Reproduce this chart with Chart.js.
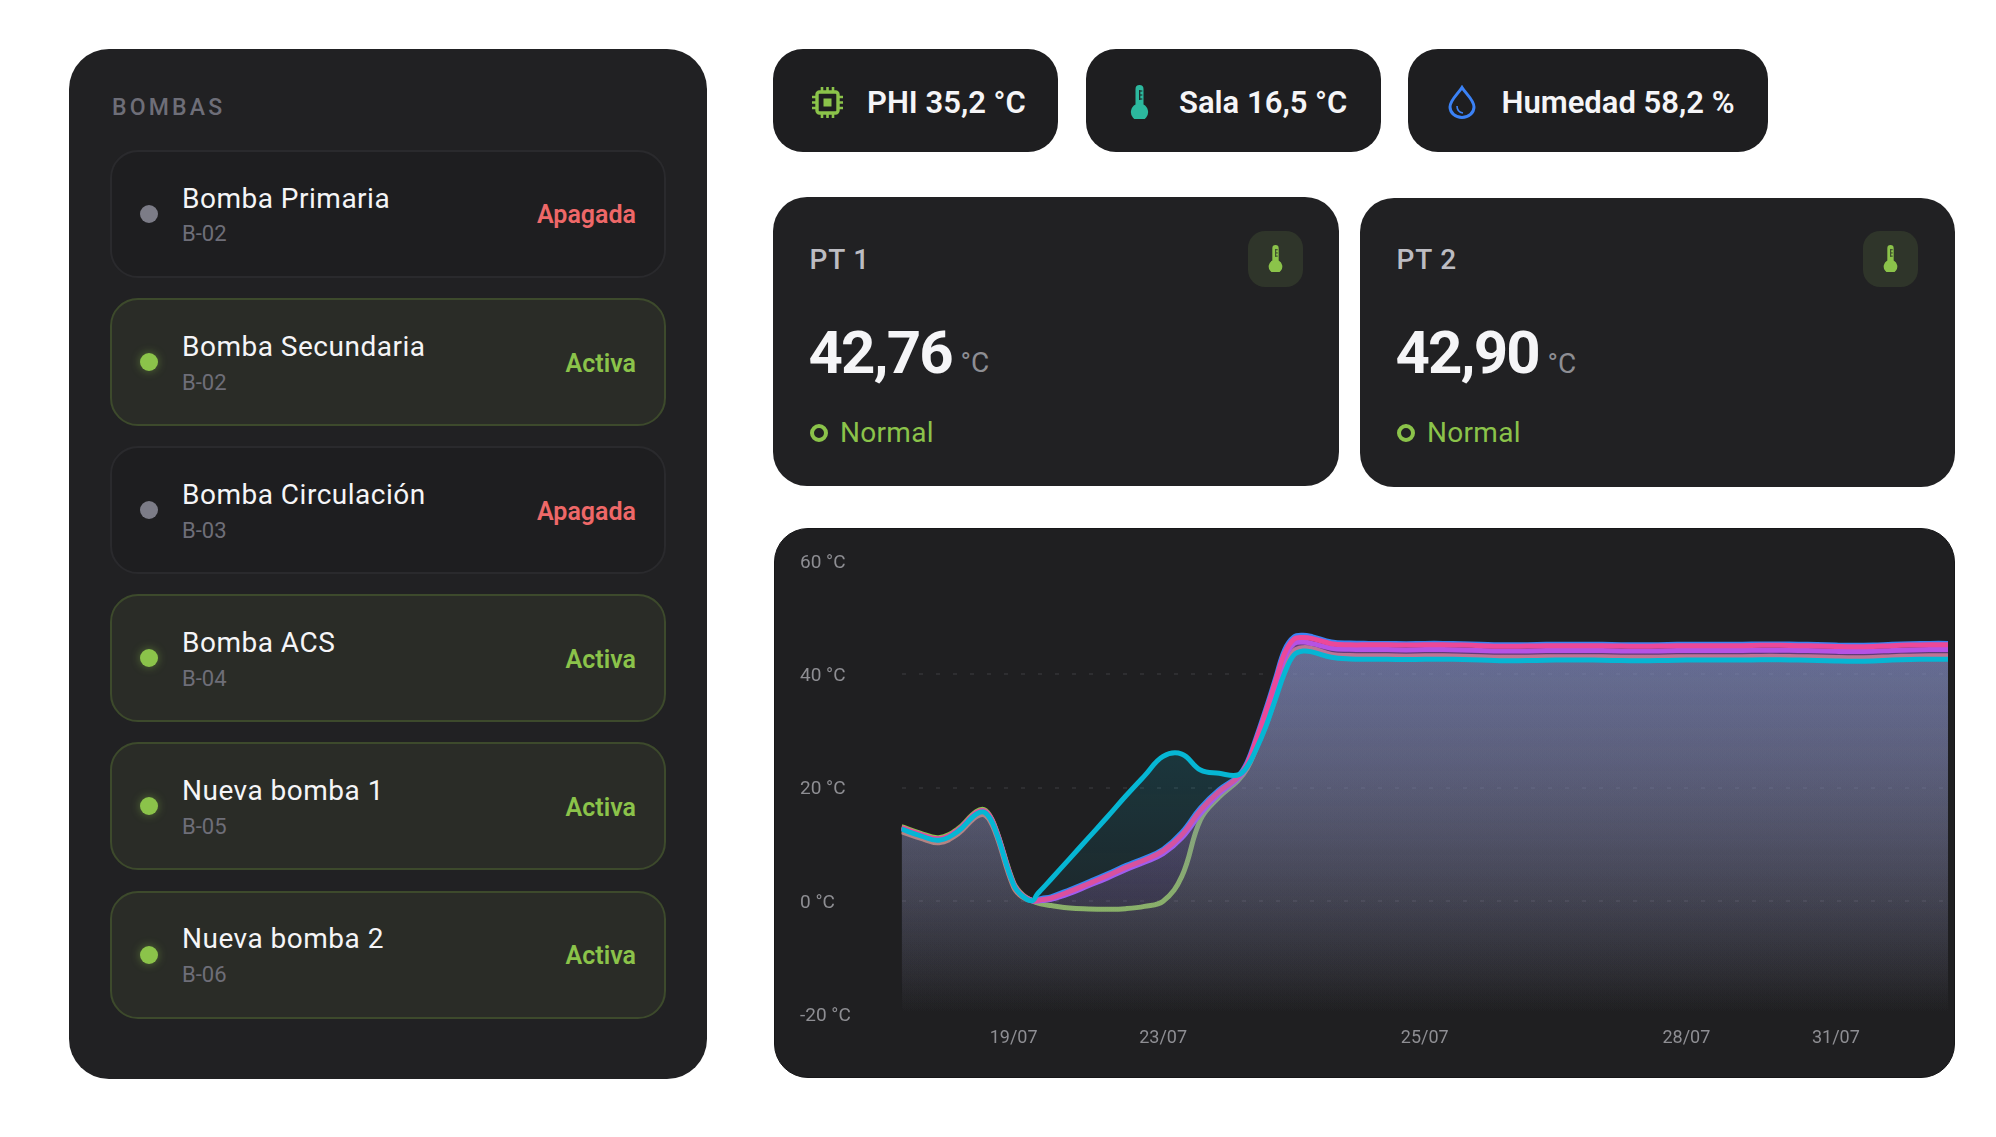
<!DOCTYPE html>
<html>
<head>
<meta charset="utf-8">
<script src="https://cdn.jsdelivr.net/npm/chart.js@4"></script>
<style>
html, body { margin: 0; padding: 0; background: #fff; }
body { position: relative; width: 1996px; height: 1137px; overflow: hidden; font-family: Roboto, sans-serif; }
.box { position: absolute; box-sizing: border-box; background: #212123; }
.t { position: absolute; line-height: 0; white-space: nowrap; }
svg { position: absolute; }
canvas { position: absolute; display: block; }
</style>
</head>
<body>
<div id="page"></div>
<div class="box" style="left:774px;top:528px;width:1181px;height:550px;border-radius:34px;background:#1f1f21;border:1px solid #161618"></div>
<canvas id="tempChart" width="1181" height="550" style="left:774px;top:528px"></canvas>

<script>
const pumpNames = ["Bomba Primaria", "Bomba Secundaria", "Bomba Circulación", "Bomba ACS", "Nueva bomba 1", "Nueva bomba 2"];
const pumpCodes = ["B-02", "B-02", "B-03", "B-04", "B-05", "B-06"];
const pumpStates = ["Apagada", "Activa", "Apagada", "Activa", "Activa", "Activa"];

const xTickValues = [3, 7, 14, 21, 25];
const xTickLabels = ["19/07", "23/07", "25/07", "28/07", "31/07"];
const yTicks = [-20, 0, 20, 40, 60];

const xSamples = [0, 0.5, 1, 1.5, 2, 2.25, 2.5, 3, 3.25, 3.5, 3.625, 3.75, 4, 4.5, 5, 5.5, 6, 6.5, 7, 7.5, 8, 8.5, 9, 9.25, 9.5, 9.75, 10, 10.25, 10.5, 10.75, 11, 11.5, 12,
    12.5, 13, 13.5, 14, 14.5, 15, 15.5, 16, 16.5, 17, 17.5, 18, 18.5, 19, 19.5, 20, 20.5, 21, 21.5, 22, 22.5, 23, 23.5, 24, 24.5, 25, 25.5, 26, 26.5, 27, 27.5, 28];

const cyanValues = [12.65, 11.5, 10.7, 12.2, 15.3, 15.5, 12.7, 2.8, 0.75, 0, 1.1, 2, 3.8, 7.45, 11.1, 14.75, 18.5, 22.05, 25.5, 25.9, 23.1, 22.5, 22.2, 23.7, 26.9, 30.8, 35.5, 40.2, 43.4, 44.1, 43.9, 43, 42.7,
    42.65, 42.65, 42.6, 42.65, 42.65, 42.6, 42.5, 42.4, 42.4, 42.45, 42.5, 42.5, 42.5, 42.45, 42.4, 42.4, 42.45, 42.5, 42.5, 42.5, 42.5, 42.55, 42.55, 42.5, 42.45, 42.35, 42.3, 42.35, 42.5, 42.6, 42.65, 42.65];
const pinkValues = [12.9, 11.75, 10.95, 12.45, 15.55, 15.75, 13, 3, 0.9, 0, 0.05, 0.2, 0.47, 1.65, 3, 4.4, 5.9, 7.2, 8.8, 11.65, 16, 19.3, 21.8, 24.2, 28.6, 33.4, 38.6, 43.7, 46.2, 46.5, 46.3, 45.4, 45.2,
    45.2, 45.2, 45.15, 45.2, 45.2, 45.15, 45.05, 44.95, 44.95, 45, 45.05, 45.05, 45.05, 45, 44.95, 44.95, 45, 45.05, 45.05, 45.05, 45.05, 45.1, 45.1, 45.05, 45, 44.9, 44.85, 44.9, 45.05, 45.15, 45.2, 45.2];
const purpleValues = [12.75, 11.6, 10.8, 12.3, 15.4, 15.6, 12.85, 2.9, 0.8, 0, -0.05, 0.05, 0.25, 1.3, 2.65, 4, 5.5, 6.8, 8.3, 11.1, 15.4, 18.9, 21.6, 23.8, 28.2, 32.9, 37.9, 42.9, 45.4, 45.7, 45.4, 44.6, 44.4,
    44.35, 44.35, 44.3, 44.35, 44.35, 44.3, 44.2, 44.1, 44.1, 44.15, 44.2, 44.2, 44.2, 44.15, 44.1, 44.1, 44.15, 44.2, 44.2, 44.2, 44.2, 44.25, 44.25, 44.2, 44.15, 44.05, 44, 44.05, 44.2, 44.3, 44.35, 44.35];
const blueValues = [12.85, 11.7, 10.9, 12.4, 15.5, 15.7, 12.95, 2.95, 0.85, 0, 0.15, 0.4, 0.7, 1.95, 3.3, 4.7, 6.2, 7.5, 9.1, 12.05, 16.4, 19.6, 22, 24.5, 29, 33.9, 39.1, 44.3, 46.6, 46.9, 46.6, 45.7, 45.5,
    45.45, 45.45, 45.4, 45.45, 45.45, 45.4, 45.3, 45.2, 45.2, 45.25, 45.3, 45.3, 45.3, 45.25, 45.2, 45.2, 45.25, 45.3, 45.3, 45.3, 45.3, 45.35, 45.35, 45.3, 45.25, 45.15, 45.1, 45.15, 45.3, 45.4, 45.45, 45.45];
const orangeValues = [12.2, 11.05, 10.25, 11.75, 14.85, 15.05, 12.25, 2.4, 0.6, 0, 0, 0.15, 0.35, 1.5, 2.85, 4.25, 5.75, 7.05, 8.6, 11.4, 15.8, 19.1, 21.6, 23.5, 27.3, 31.3, 36, 41, 44.1, 44.7, 44.5, 43.5, 43.3,
    43.25, 43.25, 43.2, 43.25, 43.25, 43.2, 43.1, 43, 43, 43.05, 43.1, 43.1, 43.1, 43.05, 43, 43, 43.05, 43.1, 43.1, 43.1, 43.1, 43.15, 43.15, 43.1, 43.05, 42.95, 42.9, 42.95, 43.1, 43.2, 43.25, 43.25];
const greenValues = [13.1, 11.95, 11.15, 12.65, 15.75, 15.95, 13.15, 3.2, 1, 0, -0.35, -0.6, -0.85, -1.3, -1.45, -1.5, -1.4, -1, -0.1, 4.3, 14.3, 18.3, 21.2, 23.4, 27.1, 31, 35.8, 40.7, 43.8, 44.5, 44.3, 43.3, 43.1,
    43.1, 43.1, 43.05, 43.1, 43.1, 43.05, 42.95, 42.85, 42.85, 42.9, 42.95, 42.95, 42.95, 42.9, 42.85, 42.85, 42.9, 42.95, 42.95, 42.95, 42.95, 43, 43, 42.95, 42.9, 42.8, 42.75, 42.8, 42.95, 43.05, 43.1, 43.1];

const GREEN = "#8bc34a", RED = "#ee6868", MUTED = "#6e6e78";

const page = document.getElementById("page");

function box(x, y, w, h, r, css) {
    const el = document.createElement("div");
    el.className = "box";
    el.style.cssText = `left:${x}px;top:${y}px;width:${w}px;height:${h}px;border-radius:${r}px;${css || ""}`;
    page.appendChild(el);
    return el;
}

// x is the left edge (or the right edge when right is true), y is the text baseline
function text(str, x, y, size, weight, color, opts) {
    const el = document.createElement("div");
    const o = opts || {};
    el.className = "t";
    el.textContent = str;
    const horiz = o.right ? `right:${1996 - x}px` : `left:${x}px`;
    el.style.cssText = `${horiz};top:${y - size * 0.3415}px;font-size:${size}px;font-weight:${weight};color:${color};letter-spacing:${o.spacing || 0}px`;
    page.appendChild(el);
}

function icon(x, y, w, h, viewBox, inner) {
    page.insertAdjacentHTML("beforeend",
        `<svg style="left:${x}px;top:${y}px" width="${w}" height="${h}" viewBox="${viewBox}">${inner}</svg>`);
}

function thermo(x, y, w, h, color, bg) {
    icon(x, y, w, h, "0 0 18 34",
        `<path fill="${color}" d="M5 4a4 4 0 0 1 8 0v15.5a8.6 8.6 0 1 1-8 0z"/>
         <path stroke="${bg}" stroke-width="1.2" d="M9.6 6h2.2M9.6 10h2.2M9.6 14h2.2M9.2 5v10"/>`);
}

// left panel
box(69, 49, 638, 1030, 40);
text("BOMBAS", 112, 116, 23, 500, MUTED, { spacing: 3.2 });
pumpNames.forEach((name, i) => {
    const top = 150 + i * 148.1;
    const on = pumpStates[i] === "Activa";
    box(110, top, 556, 128, 28, on
        ? "background:#2a2c27;border:2px solid #3d4a2c"
        : "background:#1e1e20;border:2px solid #2a2a2d");
    box(139.5, top + 55, 18, 18, 9, on
        ? `background:${GREEN};box-shadow:0 0 10px rgba(139,195,74,.45)`
        : "background:#7c7c87");
    text(name, 182, top + 58.4, 28, 400, "#f5f5f7", { spacing: 0.5 });
    text(pumpCodes[i], 182, top + 92, 22, 400, MUTED);
    text(pumpStates[i], 636, top + 74, 25, 600, on ? GREEN : RED, { right: true });
});

// top pills
box(773, 49, 285, 103, 30, "background:#1e1e20");
box(1086, 49, 295, 103, 30, "background:#1e1e20");
box(1408, 49, 360, 103, 30, "background:#1e1e20");
text("PHI 35,2 °C", 867, 114, 31, 600, "#f5f5f7");
text("Sala 16,5 °C", 1179, 114, 31, 600, "#f5f5f7");
text("Humedad 58,2 %", 1501.5, 114, 31, 600, "#f5f5f7");
icon(812, 87, 31, 31, "0 0 31 31",
    `<rect x="5" y="5" width="21" height="21" rx="2.5" fill="none" stroke="${GREEN}" stroke-width="3.4"/>
     <rect x="11.5" y="11.5" width="8" height="8" fill="${GREEN}"/>
     <path stroke="${GREEN}" stroke-width="2.6" d="M10 0v5M15.5 0v5M21 0v5M10 26v5M15.5 26v5M21 26v5M0 10h5M0 15.5h5M0 21h5M26 10h5M26 15.5h5M26 21h5"/>`);
thermo(1130, 85, 19, 34, "#2cb89e", "#1e1e20");
icon(1448, 85, 28, 34, "0 0 28 34",
    `<path fill="none" stroke="#3b82f6" stroke-width="3" d="M14 2.5C10 9 2 15 2 22a12 10.5 0 0 0 24 0C26 15 18 9 14 2.5z"/>
     <path fill="none" stroke="#3b82f6" stroke-width="1.6" d="M9 21c0 4 2.5 6.5 6 7"/>`);

// PT cards
function ptCard(x, y, w, title, value, tileX, textX) {
    box(x, y, w, 289, 34);
    text(title, textX, y + 72.5, 28, 500, "#bcbcc2", { spacing: 0.8 });
    text(value, textX - 1, y + 176, 60, 700, "#f5f5f7", { spacing: -1.8 });
    text("°C", textX + 151, y + 176, 28, 400, "#8e8e93");
    box(textX, y + 226.5, 18, 18, 9, `background:transparent;border:4px solid ${GREEN}`);
    text("Normal", textX + 30.5, y + 245.5, 28, 400, GREEN, { spacing: 0.3 });
    box(tileX, y + 33.5, 55, 56, 17, "background:#2f352a");
    thermo(tileX + 20, y + 47.5, 15, 27, GREEN, "#2f352a");
}
ptCard(773, 197, 566, "PT 1", "42,76", 1248, 809.5);
ptCard(1360, 197.5, 595, "PT 2", "42,90", 1863, 1396.5);

// fill fades out towards the bottom of the plot
function fade(rgb, alpha) {
    return ctx => {
        const area = ctx.chart.chartArea;
        if (!area) return "transparent";
        const g = ctx.chart.ctx.createLinearGradient(0, area.top, 0, area.bottom);
        g.addColorStop(0, `rgba(${rgb},${alpha})`);
        g.addColorStop(1, `rgba(${rgb},0)`);
        return g;
    };
}

function series(values, color, rgb, alpha) {
    return {
        data: values.map((y, k) => ({ x: xSamples[k], y: y })),
        borderColor: color,
        backgroundColor: fade(rgb, alpha),
        borderWidth: 5,
        fill: "start",
        pointRadius: 0,
        tension: 0.4,
        borderJoinStyle: "round"
    };
}

new Chart(document.getElementById("tempChart"), {
    type: "line",
    data: {
        datasets: [
            series(cyanValues, "#06b6d4", "6,182,212", 0.27),
            series(pinkValues, "#ec4899", "236,72,153", 0.24),
            series(purpleValues, "#a855f7", "168,85,247", 0.27),
            series(blueValues, "#3b82f6", "59,130,246", 0.25),
            series(orangeValues, "#d58a5a", "213,138,90", 0.27),
            series(greenValues, "#8bc34a", "139,195,74", 0.33)
        ]
    },
    options: {
        responsive: false,
        animation: false,
        layout: { padding: { left: 26, top: 33, right: 7, bottom: 0 } },
        plugins: { legend: { display: false }, tooltip: { enabled: false } },
        scales: {
            x: {
                type: "linear",
                min: xSamples[0],
                max: xSamples[xSamples.length - 1],
                grid: { display: false },
                border: { display: false },
                afterFit: s => { s.height = 64; },
                afterBuildTicks: s => { s.ticks = xTickValues.map(v => ({ value: v })); },
                ticks: {
                    autoSkip: false, maxRotation: 0, padding: 6,
                    color: "#8e8e93", font: { family: "Roboto", size: 18 },
                    callback: v => xTickLabels[xTickValues.indexOf(v)]
                }
            },
            y: {
                min: yTicks[0],
                max: yTicks[yTicks.length - 1],
                afterFit: s => { s.width = 101.5; },
                afterBuildTicks: s => { s.ticks = yTicks.map(v => ({ value: v })); },
                border: { display: false, dash: [4, 13] },
                grid: {
                    drawTicks: false,
                    lineWidth: 2,
                    color: c => (c.tick.value === 60 || c.tick.value === -20) ? "transparent" : "#2e2e31"
                },
                ticks: {
                    crossAlign: "far",
                    labelOffset: 2,
                    color: "#8e8e93",
                    font: { family: "Roboto", size: 19 },
                    callback: v => v + " °C"
                }
            }
        }
    }
});
</script>
</body>
</html>
